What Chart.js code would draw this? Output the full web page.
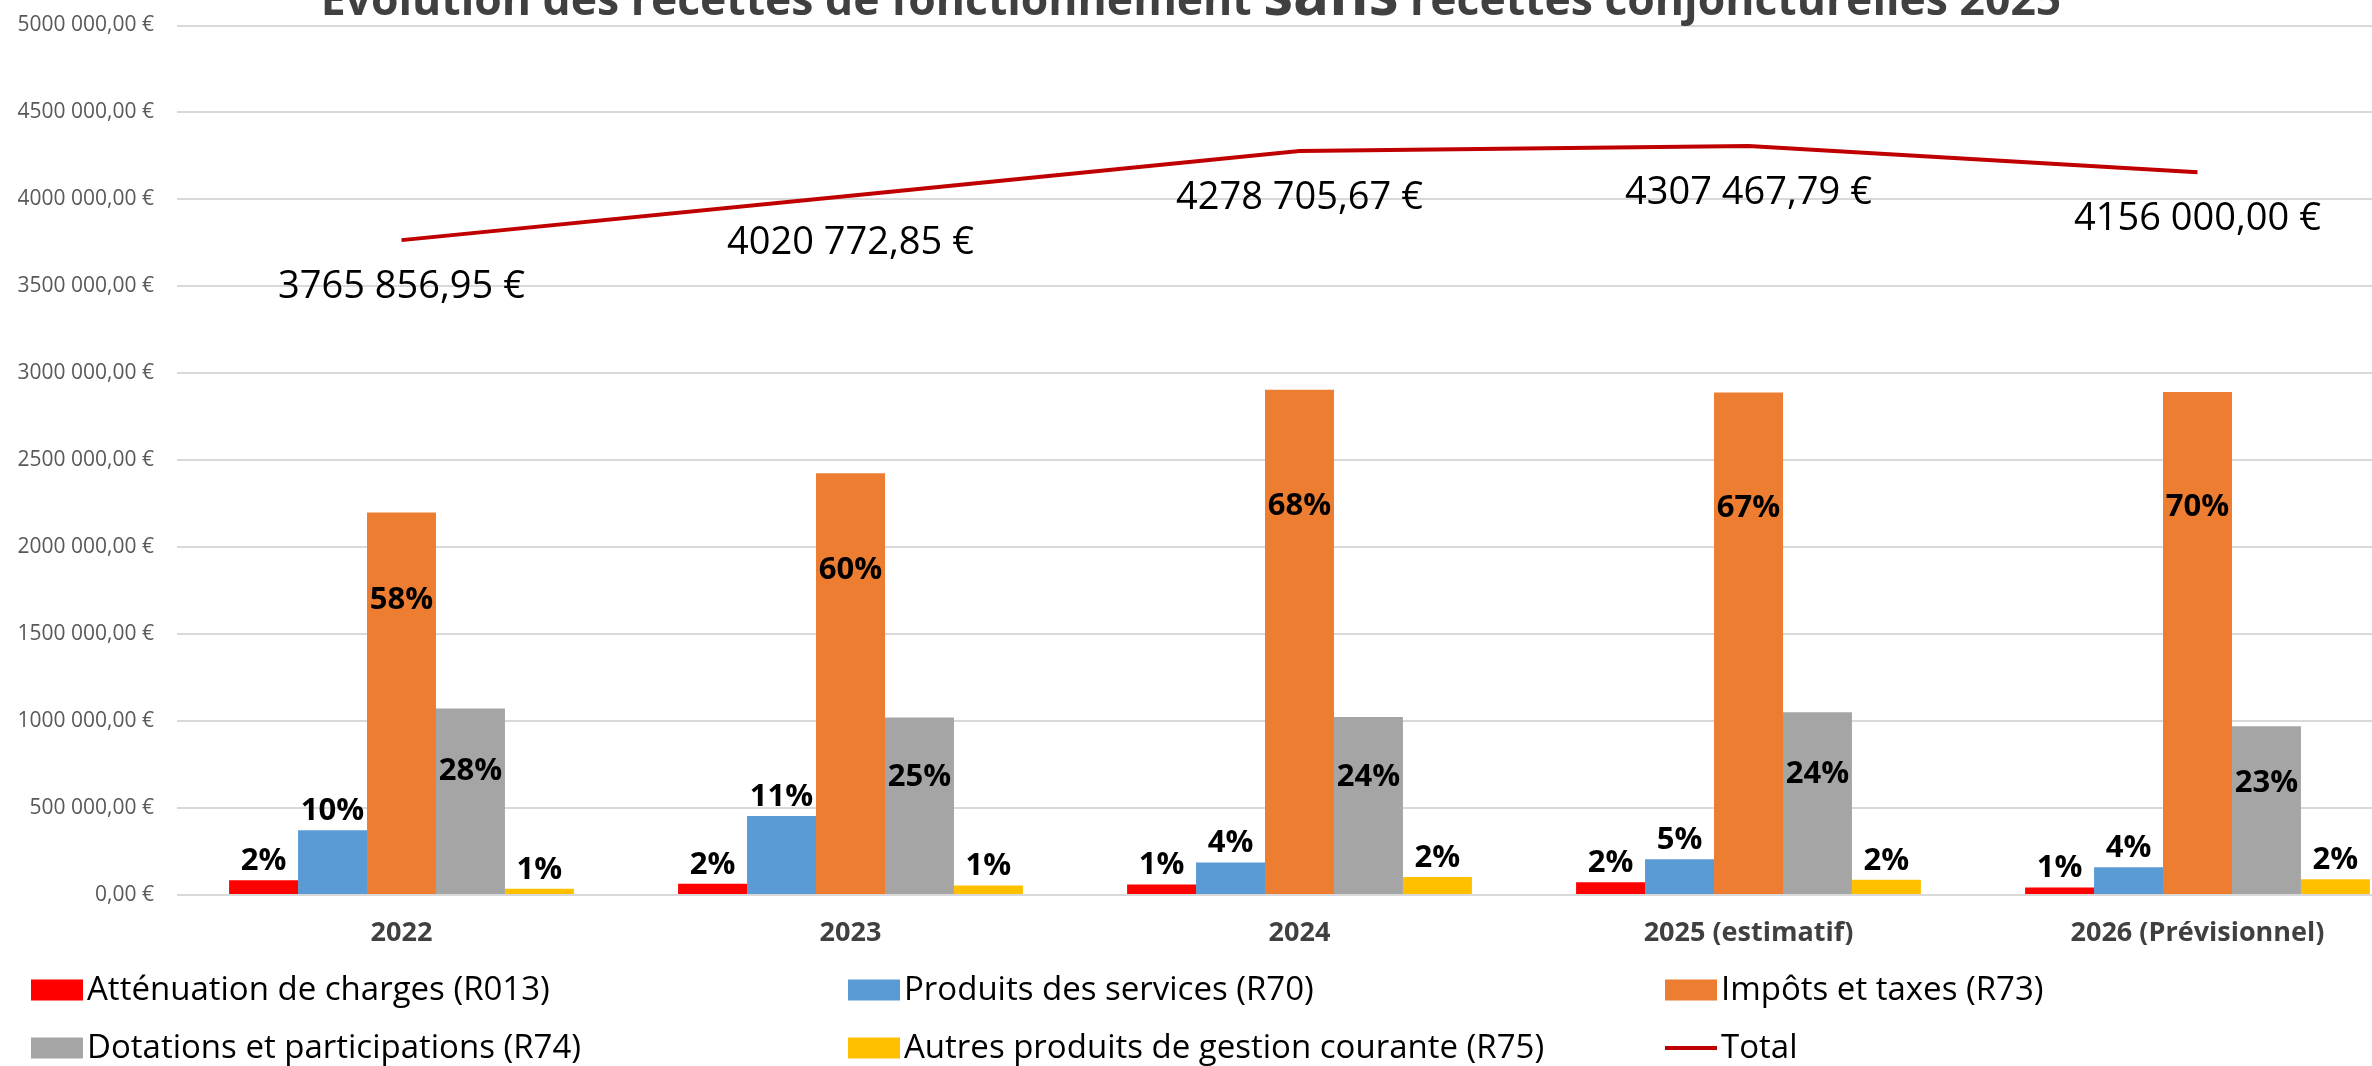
<!DOCTYPE html>
<html>
<head>
<meta charset="utf-8">
<script src="https://cdn.jsdelivr.net/npm/chart.js@4"></script>
<style>
html,body{margin:0;padding:0;overflow:hidden;background:#fff;width:2372px;height:1066px;}
#wrap{position:absolute;left:0;top:-34px;width:2440px;height:1100px;}
canvas{display:block;}
</style>
</head>
<body>
<div id="wrap"><canvas id="c" width="2440" height="1100" style="width:2440px;height:1100px"></canvas></div>
<script>
// ---- Data ----
const categories = ['2022', '2023', '2024', '2025 (estimatif)', '2026 (Prévisionnel)'];
const attenuationCharges = [85000, 65000, 60000, 74000, 43000];
const produitsServices = [372000, 455000, 187000, 206000, 159000];
const impotsTaxes = [2199857, 2425773, 2904706, 2889468, 2893000];
const dotationsParticipations = [1073000, 1020000, 1023000, 1051000, 970000];
const autresProduits = [36000, 55000, 104000, 87000, 91000];
const totals = [3765856.95, 4020772.85, 4278705.67, 4307467.79, 4156000.00];
const seriesNames = [
  'Atténuation de charges (R013)',
  'Produits des services (R70)',
  'Impôts et taxes (R73)',
  'Dotations et participations (R74)',
  'Autres produits de gestion courante (R75)',
  'Total'
];
const titleParts = ['Évolution des recettes de fonctionnement ', 'sans', ' recettes conjoncturelles 2025'];
const yMin = 0, yMax = 5000000, yStep = 500000;

// ---- Formatting ----
function euro(v, dec) {
  const fixed = Number(v).toFixed(dec);
  let [ip, fp] = fixed.split('.');
  if (ip.length > 3) ip = ip.slice(0, -3) + ' ' + ip.slice(-3);
  return ip + ',' + fp + ' €';
}

const FONT = '"Open Sans", "DejaVu Sans", sans-serif';

// ---- Plugins ----
const titlePlugin = {
  id: 'mixedTitle',
  afterDraw(chart) {
    const ctx = chart.ctx;
    const sizes = [44.5, 60, 44.5];
    ctx.save();
    ctx.fillStyle = '#404040';
    ctx.textBaseline = 'alphabetic';
    const widths = titleParts.map((t, i) => { ctx.font = 'bold ' + sizes[i] + 'px ' + FONT; return ctx.measureText(t).width; });
    const total = widths.reduce((a, b) => a + b, 0);
    let x = 1191 - total / 2;
    const y = 49;
    titleParts.forEach((t, i) => {
      ctx.font = 'bold ' + sizes[i] + 'px ' + FONT;
      ctx.textAlign = 'left';
      ctx.fillText(t, x, y);
      x += widths[i];
    });
    ctx.restore();
  }
};

const labelPlugin = {
  id: 'valueLabels',
  afterDatasetsDraw(chart) {
    const ctx = chart.ctx;
    ctx.save();
    ctx.textAlign = 'center';
    ctx.textBaseline = 'middle';
    chart.data.datasets.forEach((ds, di) => {
      const meta = chart.getDatasetMeta(di);
      if (ds.type === 'line') {
        ctx.font = '38px ' + FONT;
        ctx.fillStyle = '#000';
        meta.data.forEach((pt, i) => {
          ctx.fillText(euro(ds.data[i], 2), pt.x, pt.y + 47);
        });
        return;
      }
      ctx.font = 'bold 31px ' + FONT;
      ctx.fillStyle = '#000';
      meta.data.forEach((bar, i) => {
        const pct = Math.round(ds.data[i] / totals[i] * 100) + '%';
        const cfg = ds.pctLabel;
        let y;
        if (cfg.mode === 'above') {
          y = bar.y - 19;
        } else {
          y = bar.base - cfg.frac * (bar.base - bar.y);
        }
        ctx.fillText(pct, bar.x, y);
      });
    });
    ctx.restore();
  }
};

const legendPlugin = {
  id: 'gridLegend',
  afterDraw(chart) {
    const ctx = chart.ctx;
    const cols = [31, 848, 1665];
    const rows = [1024, 1082];
    const colors = ['#FF0000', '#5B9BD5', '#ED7D31', '#A5A5A5', '#FFC000', '#C00000'];
    ctx.save();
    ctx.font = '33px ' + FONT;
    ctx.textBaseline = 'middle';
    ctx.textAlign = 'left';
    seriesNames.forEach((name, i) => {
      const x = cols[i % 3];
      const y = rows[Math.floor(i / 3)];
      if (i === 5) {
        ctx.strokeStyle = colors[i];
        ctx.lineWidth = 4;
        ctx.beginPath();
        ctx.moveTo(x, y);
        ctx.lineTo(x + 52, y);
        ctx.stroke();
      } else {
        ctx.fillStyle = colors[i];
        ctx.fillRect(x, y - 10.5, 52, 21);
      }
      ctx.fillStyle = '#000';
      ctx.fillText(name, x + 56, y + 1);
    });
    ctx.restore();
  }
};

// ---- Chart ----
const barCommon = { type: 'bar', borderWidth: 0, categoryPercentage: 0.768, barPercentage: 1.0, order: 1 };

new Chart(document.getElementById('c'), {
  data: {
    labels: categories,
    datasets: [
      Object.assign({ label: seriesNames[0], data: attenuationCharges, backgroundColor: '#FF0000', pctLabel: { mode: 'above' } }, barCommon),
      Object.assign({ label: seriesNames[1], data: produitsServices, backgroundColor: '#5B9BD5', pctLabel: { mode: 'above' } }, barCommon),
      Object.assign({ label: seriesNames[2], data: impotsTaxes, backgroundColor: '#ED7D31', pctLabel: { mode: 'inside', frac: 0.77 } }, barCommon),
      Object.assign({ label: seriesNames[3], data: dotationsParticipations, backgroundColor: '#A5A5A5', pctLabel: { mode: 'inside', frac: 0.66 } }, barCommon),
      Object.assign({ label: seriesNames[4], data: autresProduits, backgroundColor: '#FFC000', pctLabel: { mode: 'above' } }, barCommon),
      { type: 'line', label: seriesNames[5], data: totals, borderColor: '#C00000', backgroundColor: '#C00000', borderWidth: 4, pointRadius: 0, pointHoverRadius: 0, tension: 0, fill: false, order: 0 }
    ]
  },
  options: {
    responsive: false,
    animation: false,
    devicePixelRatio: 1,
    layout: { padding: { top: 59.5, right: 18, bottom: 121, left: 0 } },
    plugins: {
      legend: { display: false },
      title: { display: false },
      tooltip: { enabled: false }
    },
    scales: {
      x: {
        grid: { display: false, drawTicks: false },
        border: { display: false },
        ticks: { color: '#404040', font: { family: FONT, size: 27, weight: 'bold' }, padding: 22, maxRotation: 0, autoSkip: false },
        afterFit(scale) { scale.height = 50; }
      },
      y: {
        min: yMin, max: yMax,
        grid: { color: '#D9D9D9', lineWidth: 2, drawTicks: false },
        border: { display: false },
        ticks: {
          stepSize: yStep,
          color: '#595959',
          font: { family: FONT, size: 21 },
          padding: 23,
          callback: (v) => euro(v, 2)
        },
        afterFit(scale) { scale.width = 177; }
      }
    }
  },
  plugins: [titlePlugin, labelPlugin, legendPlugin]
});
</script>
</body>
</html>
